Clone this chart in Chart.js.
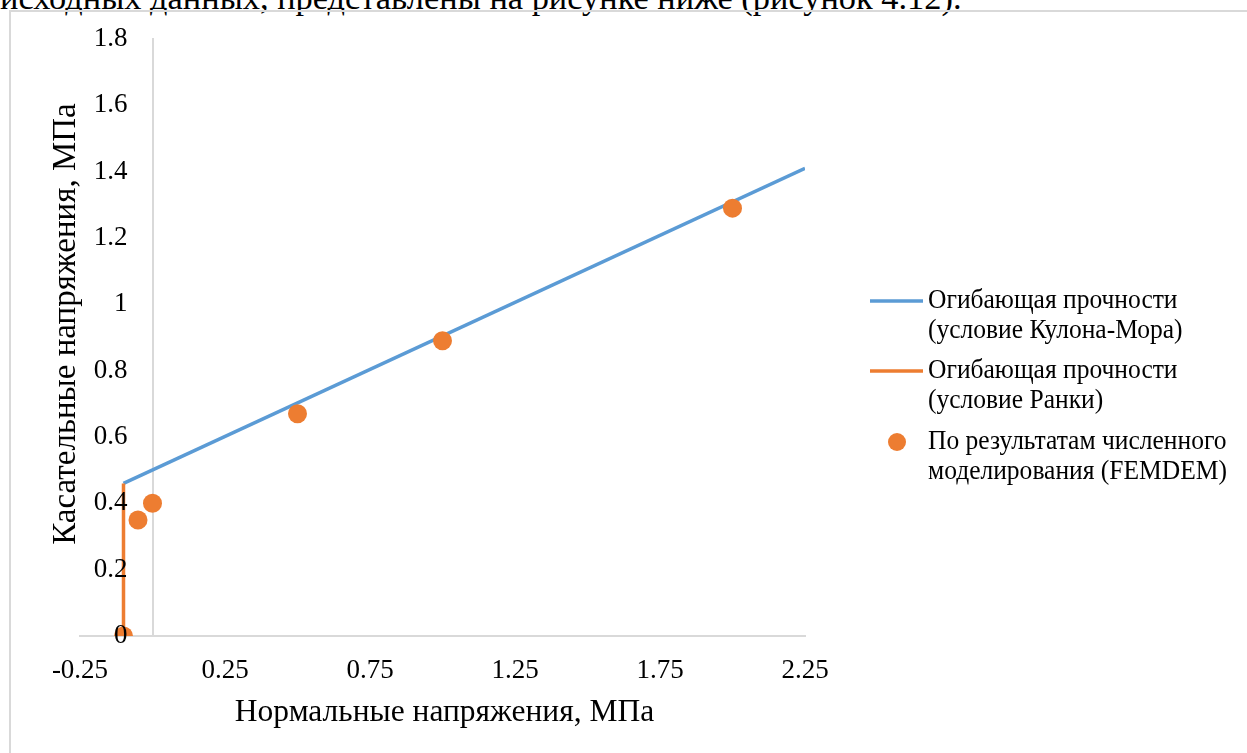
<!DOCTYPE html>
<html lang="ru">
<head>
<meta charset="utf-8">
<title>Огибающие прочности</title>
<script src="https://cdn.jsdelivr.net/npm/chart.js@4.4.1/dist/chart.umd.min.js"></script>
<style>
  html, body { margin: 0; padding: 0; background: #fff; overflow: hidden; }
  body { width: 1247px; height: 753px; position: relative; }
  .lead {
    position: absolute; left: 0; top: -20px; margin: 0;
    font: 34.4px/34.4px "Liberation Serif", serif; color: #000; white-space: nowrap;
  }
  .frame {
    position: absolute; left: 9px; top: 10px; right: -10px; bottom: -10px;
    border-left: 2px solid #d9d9d9; border-top: 2px solid #d9d9d9;
  }
  #chart { position: absolute; left: 0; top: 0; }
</style>
</head>
<body>
<p class="lead">исходных данных, представлены на рисунке ниже (рисунок 4.12).</p>
<div class="frame"></div>
<canvas id="chart" width="1247" height="753"></canvas>
<script>
//! Data

const mohrX = [-0.1, 2.25];
const mohrY = [0.46, 1.41];

const rankineX = [-0.1, -0.1];
const rankineY = [0, 0.46];

const femdemX = [-0.1, -0.05, 0, 0.5, 1, 2];
const femdemY = [0, 0.35, 0.4, 0.67, 0.89, 1.29];

const xTicks = [-0.25, 0.25, 0.75, 1.25, 1.75, 2.25];
const yTicks = [0, 0.2, 0.4, 0.6, 0.8, 1, 1.2, 1.4, 1.6, 1.8];

const seriesLabels = [
  ["Огибающая прочности", "(условие Кулона-Мора)"],
  ["Огибающая прочности", "(условие Ранки)"],
  ["По результатам численного", "моделирования (FEMDEM)"],
];

const xTitle = "Нормальные напряжения, МПа";
const yTitle = "Касательные напряжения, МПа";

const BLUE = "#5b9bd5";
const ORANGE = "#ed7d31";
const AXIS = "#d9d9d9";
const FONT = '"Liberation Serif", serif';

const toPoints = (xs, ys) => xs.map((x, i) => ({ x: x, y: ys[i] }));

//! y labels sit a bit left of the axis line at x = 0

const yLabelGap = {
  id: "yLabelGap",
  afterUpdate(chart) {
    const items = chart.scales.y.getLabelItems(chart.chartArea);
    items.forEach((item) => {
      item.options.translation[0] -= 25;
    });
  },
};

//! Axis titles + legend drawn on the canvas

const axisTitles = {
  id: "axisTitles",
  afterDraw(chart) {
    const ctx = chart.ctx;
    const area = chart.chartArea;
    ctx.save();
    ctx.fillStyle = "#000";
    ctx.textAlign = "center";
    ctx.textBaseline = "middle";
    ctx.font = "31.5px " + FONT;
    ctx.fillText(xTitle, (area.left + area.right) / 2 + 2, 713);
    ctx.font = "33px " + FONT;
    ctx.translate(66, 324);
    ctx.rotate(-Math.PI / 2);
    ctx.fillText(yTitle, 0, 0);
    ctx.restore();
  },
};

const sideLegend = {
  id: "sideLegend",
  afterDraw(chart) {
    const ctx = chart.ctx;
    const rows = [301, 371, 442];
    ctx.save();
    ctx.font = "27px " + FONT;
    ctx.textAlign = "left";
    ctx.textBaseline = "middle";
    chart.data.datasets.forEach((ds, i) => {
      const y = rows[i];
      if (ds.showLine) {
        ctx.strokeStyle = ds.borderColor;
        ctx.lineWidth = 3.5;
        ctx.beginPath();
        ctx.moveTo(870, y);
        ctx.lineTo(923, y);
        ctx.stroke();
      } else {
        ctx.fillStyle = ds.backgroundColor;
        ctx.beginPath();
        ctx.arc(897, y, 9, 0, Math.PI * 2);
        ctx.fill();
      }
      ctx.fillStyle = "#000";
      ds.label.forEach((line, j) => {
        ctx.save();
        ctx.translate(928, y + j * 30);
        ctx.scale(0.945, 1);
        ctx.fillText(line, 0, 0);
        ctx.restore();
      });
    });
    ctx.restore();
  },
};

//! Chart JS

new Chart(document.getElementById("chart"), {
  type: "scatter",
  data: {
    datasets: [
      {
        label: seriesLabels[0],
        data: toPoints(mohrX, mohrY),
        showLine: true,
        borderColor: BLUE,
        backgroundColor: BLUE,
        borderWidth: 3.5,
        pointRadius: 0,
        order: 2,
      },
      {
        label: seriesLabels[1],
        data: toPoints(rankineX, rankineY),
        showLine: true,
        borderColor: ORANGE,
        backgroundColor: ORANGE,
        borderWidth: 3.5,
        pointRadius: 0,
        order: 1,
      },
      {
        label: seriesLabels[2],
        data: toPoints(femdemX, femdemY),
        showLine: false,
        backgroundColor: ORANGE,
        borderWidth: 0,
        pointRadius: 9.5,
        order: 0,
      },
    ],
  },
  options: {
    responsive: false,
    animation: false,
    events: [],
    layout: {
      padding: { left: 80, top: 39, right: 442, bottom: 57 },
    },
    plugins: {
      legend: { display: false },
      tooltip: { enabled: false },
    },
    scales: {
      x: {
        type: "linear",
        min: -0.25,
        max: 2.25,
        afterBuildTicks: (scale) => {
          scale.ticks = xTicks.map((v) => ({ value: v }));
        },
        afterFit: (scale) => {
          scale.height = 60;
        },
        grid: { display: false, drawTicks: false },
        border: { display: true, color: AXIS, width: 2 },
        ticks: {
          padding: 19,
          color: "#000",
          font: { family: FONT, size: 27 },
          callback: (v) => String(v),
        },
      },
      y: {
        type: "linear",
        position: { x: 0 },
        min: 0,
        max: 1.8,
        afterBuildTicks: (scale) => {
          scale.ticks = yTicks.map((v) => ({ value: v }));
        },
        grid: { display: false, drawTicks: false },
        border: { display: true, color: AXIS, width: 2 },
        ticks: {
          z: 1,
          color: "#000",
          font: { family: FONT, size: 27 },
          callback: (v) => String(Math.round(v * 10) / 10),
        },
      },
    },
  },
  plugins: [yLabelGap, axisTitles, sideLegend],
});
</script>
</body>
</html>
